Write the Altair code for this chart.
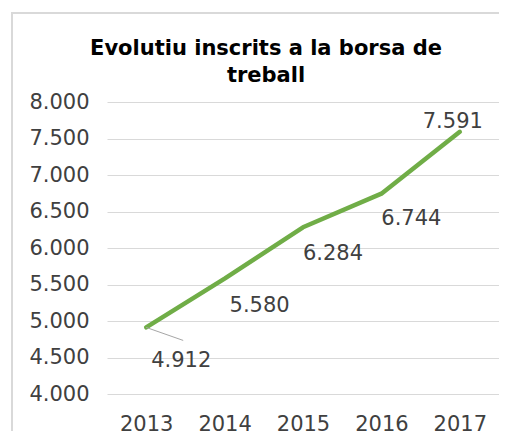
import altair as alt
import pandas as pd

years = ["2013", "2014", "2015", "2016", "2017"]
inscrits = [4912, 5580, 6284, 6744, 7591]
title_lines = ["Evolutiu inscrits a la borsa de", "treball"]

# label placement offsets (pixels) relative to each point
label_dx = [35, 35, 30, 30, -7]
label_dy = [34, 27, 27, 25, -10]

df = pd.DataFrame({"year": years, "value": inscrits})
fmt = "replace(format(datum.value, ',.0f'), ',', '.')"

FONT = "DejaVu Sans"
TXT = "#404040"
BORDER = "#d9d9d9"

x_scale = alt.Scale(type="point", domain=years, padding=0.5)
y_scale = alt.Scale(domain=[4000, 8000], nice=False, zero=False)

x_enc = alt.X("year:O", scale=x_scale,
              axis=alt.Axis(title=None, labelAngle=0, ticks=False, domain=False,
                            grid=False, labelPadding=19, labelFont=FONT,
                            labelFontSize=21, labelColor=TXT, labelOverlap=False))
y_enc = alt.Y("value:Q", scale=y_scale,
              axis=alt.Axis(title=None, values=list(range(4000, 8001, 500)),
                            labelExpr=fmt, ticks=False, domain=False,
                            grid=True, gridColor=BORDER, gridWidth=1,
                            labelPadding=18, labelFont=FONT, labelFontSize=21,
                            labelColor=TXT, labelOverlap=False))

base = alt.Chart(df)
one = alt.Data(values=[{}])

# chart-area border (top and left edges; the rest lies outside the picture)
border_top = alt.Chart(one).mark_rule(color=BORDER, strokeWidth=2).encode(
    x=alt.value(-95), x2=alt.value(420), y=alt.value(-89), y2=alt.value(-89))
border_left = alt.Chart(one).mark_rule(color=BORDER, strokeWidth=2).encode(
    x=alt.value(-95), x2=alt.value(-95), y=alt.value(-90), y2=alt.value(360))

title = alt.Chart(one).mark_text(
    font=FONT, fontSize=21, fontWeight="bold", color="#000000",
    align="center", baseline="alphabetic", lineHeight=27
).encode(x=alt.value(159), y=alt.value(-47), text=alt.value(title_lines))

line = base.mark_line(color="#70AD47", strokeWidth=4.5, strokeCap="round",
                      strokeJoin="round").encode(x=x_enc, y=y_enc)

leader = base.transform_filter(alt.datum.year == "2013").mark_rule(
    color="#a6a6a6", strokeWidth=1, x2Offset=37, y2Offset=13
).encode(x=x_enc, x2="year:O", y=y_enc, y2="value:Q")

texts = []
for yr, dx, dy in zip(years, label_dx, label_dy):
    texts.append(
        base.transform_filter(alt.datum.year == yr)
        .transform_calculate(lab=fmt)
        .mark_text(font=FONT, fontSize=21, color=TXT, dx=dx, dy=dy,
                   baseline="middle", align="center")
        .encode(x=x_enc, y=y_enc, text="lab:N")
    )

chart = alt.layer(line, leader, *texts, border_top, border_left, title).properties(
    width=392, height=292,
    autosize=alt.AutoSizeParams(type="none"),
    padding={"left": 99, "top": 94, "right": 0, "bottom": 37},
).configure_view(stroke=None)

chart.save("out.html", embed_options={"renderer": "svg", "actions": False})
